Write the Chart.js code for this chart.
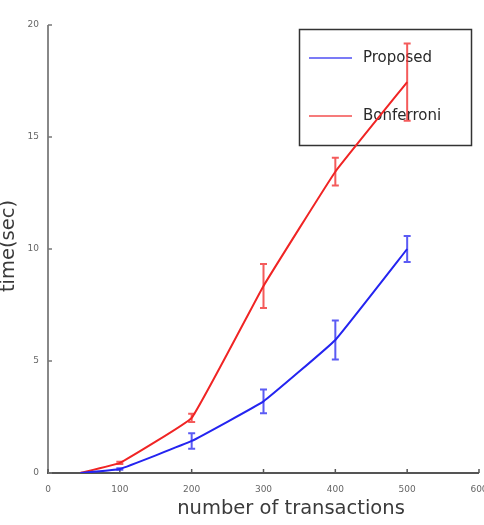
<!DOCTYPE html>
<html>
<head>
<meta charset="utf-8">
<script src="https://cdn.jsdelivr.net/npm/chart.js@4/dist/chart.umd.min.js"></script>
<style>
  body { margin: 0; background: #fff; }
  canvas { display: block; }
</style>
</head>
<body>
<canvas id="myChart" width="484" height="525"></canvas>
<script>
const transactions = [45, 100, 200, 300, 400, 500];
const proposed = [0, 0.18, 1.43, 3.2, 5.94, 10.0];
const proposedErr = [0, 0.03, 0.35, 0.53, 0.87, 0.58];
const bonferroni = [0, 0.45, 2.46, 8.35, 13.45, 17.45];
const bonferroniErr = [0, 0.05, 0.18, 0.98, 0.62, 1.72];
const xTicks = [0, 100, 200, 300, 400, 500, 600];
const yTicks = [0, 5, 10, 15, 20];

const blue = '#2424f0';
const red = '#f02424';
const font = 'DejaVu Sans';

const toPoints = (ys) => transactions.map((x, i) => ({ x: x, y: ys[i] }));

const errorBars = {
    id: 'errorBars',
    afterDatasetsDraw(chart) {
        const ctx = chart.ctx;
        const xs = chart.scales.x, ys = chart.scales.y;
        chart.data.datasets.forEach(ds => {
            ctx.save();
            ctx.strokeStyle = ds.borderColor;
            ctx.globalAlpha = 0.75;
            ctx.lineWidth = 2;
            ds.errors.forEach((e, i) => {
                if (!e) return;
                const px = xs.getPixelForValue(transactions[i]);
                const top = ys.getPixelForValue(ds.data[i].y + e);
                const bot = ys.getPixelForValue(ds.data[i].y - e);
                ctx.beginPath();
                ctx.moveTo(px, top); ctx.lineTo(px, bot);
                ctx.moveTo(px - 3.5, top); ctx.lineTo(px + 3.5, top);
                ctx.moveTo(px - 3.5, bot); ctx.lineTo(px + 3.5, bot);
                ctx.stroke();
            });
            ctx.restore();
        });
    }
};

const frame = {
    id: 'frame',
    beforeDatasetsDraw(chart) {
        const ctx = chart.ctx;
        const a = chart.chartArea;
        const xs = chart.scales.x, ys = chart.scales.y;
        ctx.save();
        // axes
        ctx.lineWidth = 2;
        ctx.strokeStyle = '#888';
        ctx.beginPath();
        ctx.moveTo(a.left, a.top); ctx.lineTo(a.left, a.bottom);
        ctx.stroke();
        ctx.strokeStyle = '#555';
        ctx.beginPath();
        ctx.moveTo(a.left - 1, a.bottom); ctx.lineTo(a.right, a.bottom);
        ctx.stroke();
        // inside ticks
        ctx.lineWidth = 1.5;
        xTicks.forEach(v => {
            const px = xs.getPixelForValue(v);
            ctx.beginPath(); ctx.moveTo(px, a.bottom); ctx.lineTo(px, a.bottom - 4); ctx.stroke();
        });
        ctx.strokeStyle = '#777';
        yTicks.forEach(v => {
            const py = ys.getPixelForValue(v);
            ctx.beginPath(); ctx.moveTo(a.left, py); ctx.lineTo(a.left + 4, py); ctx.stroke();
        });
        // axis titles
        ctx.fillStyle = '#3a3a3a';
        ctx.font = '19.5px "' + font + '"';
        ctx.textAlign = 'center';
        ctx.textBaseline = 'middle';
        ctx.fillText('number of transactions', 291, 509);
        ctx.translate(9, 246);
        ctx.rotate(-Math.PI / 2);
        ctx.fillText('time(sec)', 0, 0);
        ctx.restore();

        // legend box
        ctx.save();
        ctx.strokeStyle = '#333';
        ctx.lineWidth = 1.5;
        ctx.strokeRect(299.5, 29.5, 172, 116);
        const entries = [['Proposed', blue, 58], ['Bonferroni', red, 116]];
        ctx.font = '15px "' + font + '"';
        ctx.textBaseline = 'middle';
        ctx.textAlign = 'left';
        entries.forEach(([label, color, y]) => {
            ctx.strokeStyle = color;
            ctx.globalAlpha = 0.8;
            ctx.lineWidth = 1.5;
            ctx.beginPath(); ctx.moveTo(309, y); ctx.lineTo(352, y); ctx.stroke();
            ctx.globalAlpha = 1;
            ctx.fillStyle = '#2a2a2a';
            ctx.fillText(label, 363, y);
        });
        ctx.restore();
    }
};

new Chart('myChart', {
    type: 'line',
    data: {
        datasets: [{
            label: 'Proposed',
            data: toPoints(proposed),
            errors: proposedErr,
            borderColor: blue,
            borderWidth: 2,
            pointRadius: 0,
            tension: 0.08
        }, {
            label: 'Bonferroni',
            data: toPoints(bonferroni),
            errors: bonferroniErr,
            borderColor: red,
            borderWidth: 2,
            pointRadius: 0,
            tension: 0.08
        }]
    },
    options: {
        responsive: false,
        animation: false,
        layout: { padding: { top: 25, right: 5, left: 0, bottom: 0 } },
        plugins: { legend: { display: false }, tooltip: { enabled: false } },
        scales: {
            x: {
                type: 'linear',
                min: 0, max: 600,
                border: { display: false },
                grid: { display: false, drawTicks: false },
                afterBuildTicks: (s) => { s.ticks = xTicks.map(v => ({ value: v })); },
                afterFit: (s) => { s.height = 52; s.paddingLeft = 0; s.paddingRight = 0; },
                ticks: {
                    padding: 11, maxRotation: 0,
                    color: '#666',
                    font: { family: font, size: 9 }
                }
            },
            y: {
                min: 0, max: 20,
                border: { display: false },
                grid: { display: false, drawTicks: false },
                afterBuildTicks: (s) => { s.ticks = yTicks.map(v => ({ value: v })); },
                afterFit: (s) => { s.width = 48; s.paddingTop = 0; s.paddingBottom = 0; },
                ticks: {
                    padding: 9,
                    color: '#666',
                    font: { family: font, size: 9 }
                }
            }
        }
    },
    plugins: [frame, errorBars]
});
</script>
</body>
</html>
